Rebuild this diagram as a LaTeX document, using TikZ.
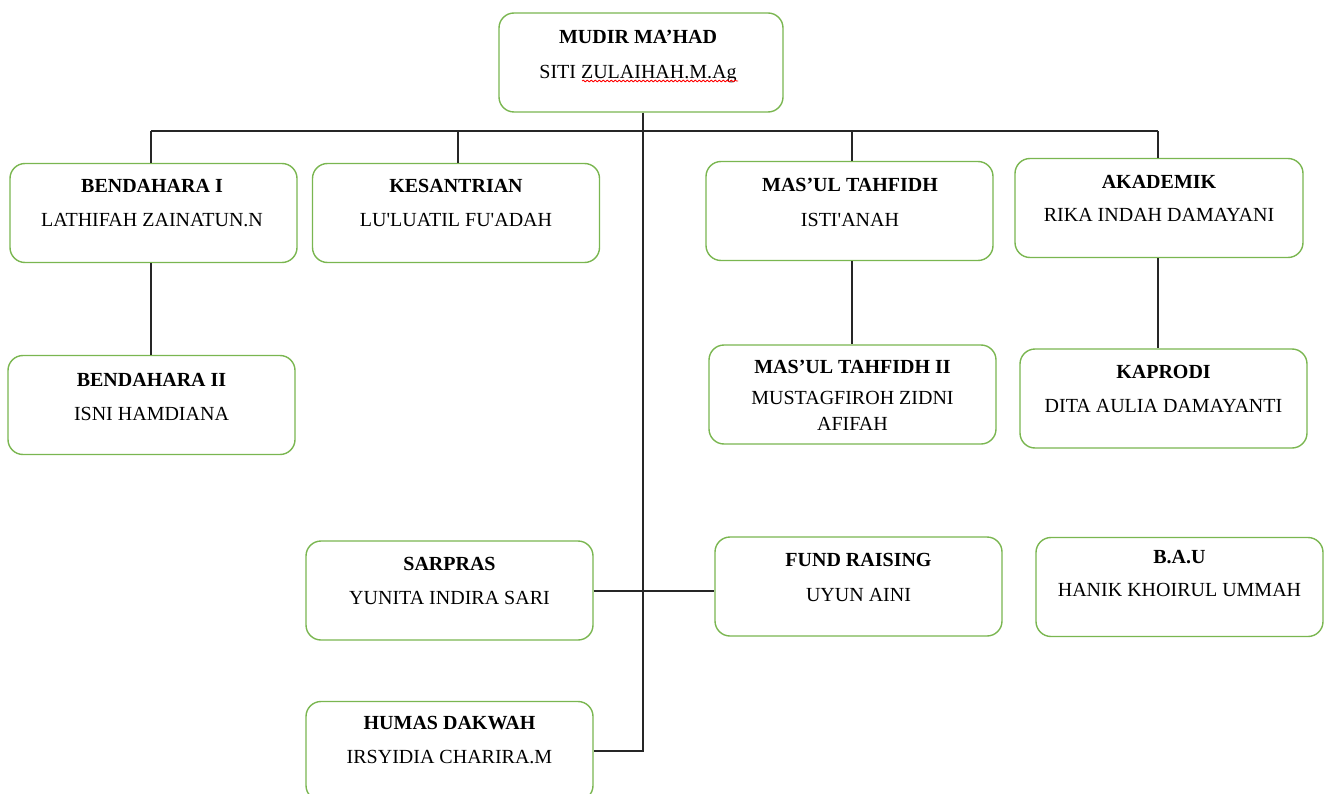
\documentclass[tikz,border=0pt]{standalone}
\usepackage{fontspec}
\setmainfont{Liberation Serif}
\usetikzlibrary{decorations.pathmorphing}
\definecolor{boxgreen}{RGB}{122,182,80}
\newcommand\sq{\XeTeXglyph\XeTeXcharglyph"0027\relax}
\tikzset{
  orgbox/.style={draw=boxgreen, line width=1.4pt, rounded corners=15pt, minimum width=287pt, minimum height=99pt, inner sep=0pt},
  ttl/.style={font=\fontsize{20}{23}\selectfont\bfseries, inner sep=0pt, text height=13pt, text depth=0pt},
  nm/.style={font=\fontsize{20}{23}\selectfont, inner sep=0pt, text height=13pt, text depth=0pt},
  link/.style={draw=black!85, line width=1.6pt},
  spell/.style={draw=red, line width=0.8pt, decorate, decoration={snake, amplitude=0.9pt, segment length=4pt}},
}
\begin{document}
\begin{tikzpicture}[x=1pt,y=-1pt]
\useasboundingbox (0,0) rectangle (1324,794);
\clip (0,0) rectangle (1324,794);
% boxes
\node[orgbox, minimum width=284pt] (mudir) at (641,62.5) {};
\node[orgbox] (b1)  at (153.5,213) {};
\node[orgbox] (kes) at (456,213) {};
\node[orgbox] (mt)  at (849.5,211) {};
\node[orgbox, minimum width=288pt] (ak) at (1159,208) {};
\node[orgbox] (b2)  at (151.5,405) {};
\node[orgbox] (mt2) at (852.5,394.5) {};
\node[orgbox] (kap) at (1163.5,398.5) {};
\node[orgbox] (sar) at (449.5,590.5) {};
\node[orgbox] (fr)  at (858.5,586.5) {};
\node[orgbox] (bau) at (1179.5,587) {};
\node[orgbox] (hum) at (449.5,751) {};
% texts
\node[ttl] (mudirT) at (638,37) {MUDIR MA’HAD};
\node[nm]  (mudirN) at (638,72) {SITI ZULAIHAH.M.Ag};
\draw[spell] (582,81) -- (738,81);
\node[ttl] (b1T) at (152,186) {BENDAHARA I};
\node[nm]  (b1N) at (152,220) {LATHIFAH ZAINATUN.N};
\node[ttl] (kesT) at (456,186) {KESANTRIAN};
\node[nm]  (kesN) at (456,220) {LU\sq LUATIL FU\sq ADAH};
\node[ttl] (mtT) at (850,185) {MAS’UL TAHFIDH};
\node[nm]  (mtN) at (850,220) {ISTI\sq ANAH};
\node[ttl] (akT) at (1159,182) {AKADEMIK};
\node[nm]  (akN) at (1159,215) {RIKA INDAH DAMAYANI};
\node[ttl] (b2T) at (151.5,380) {BENDAHARA II};
\node[nm]  (b2N) at (151.5,414) {ISNI HAMDIANA};
\node[ttl] (mt2T) at (852.5,367) {MAS’UL TAHFIDH II};
\node[nm]  (mt2N) at (852.5,398) {MUSTAGFIROH ZIDNI};
\node[nm]  (mt2M) at (852.5,424) {AFIFAH};
\node[ttl] (kapT) at (1163.5,372) {KAPRODI};
\node[nm]  (kapN) at (1163.5,406) {DITA AULIA DAMAYANTI};
\node[ttl] (sarT) at (449.5,564) {SARPRAS};
\node[nm]  (sarN) at (449.5,598) {YUNITA INDIRA SARI};
\node[ttl] (frT) at (858.5,560) {FUND RAISING};
\node[nm]  (frN) at (858.5,595) {UYUN AINI};
\node[ttl] (bauT) at (1179.5,557) {B.A.U};
\node[nm]  (bauN) at (1179.5,590) {HANIK KHOIRUL UMMAH};
\node[ttl] (humT) at (449.5,723) {HUMAS DAKWAH};
\node[nm]  (humN) at (449.5,757) {IRSYIDIA CHARIRA.M};
% connectors
\coordinate (busL) at (151,131);
\coordinate (busR) at (1158,131);
\coordinate (trunk) at (643,131);
\coordinate (kesDrop) at (458,131);
\coordinate (mtDrop) at (852,131);
\coordinate (sideY) at (0,591);
\coordinate (humY) at (0,751);
\draw[link] (busL) -- (busR);
\draw[link] (busL) -- (busL |- b1.north);
\draw[link] (kesDrop) -- (kesDrop |- kes.north);
\draw[link] (mtDrop) -- (mtDrop |- mt.north);
\draw[link] (busR) -- (busR |- ak.north);
\draw[link] (trunk |- mudir.south) -- (trunk |- humY) -- (hum.east |- humY);
\draw[link] (sar.east |- sideY) -- (fr.west |- sideY);
\draw[link] (busL |- b1.south) -- (busL |- b2.north);
\draw[link] (mtDrop |- mt.south) -- (mtDrop |- mt2.north);
\draw[link] (busR |- ak.south) -- (busR |- kap.north);
\end{tikzpicture}
\end{document}
